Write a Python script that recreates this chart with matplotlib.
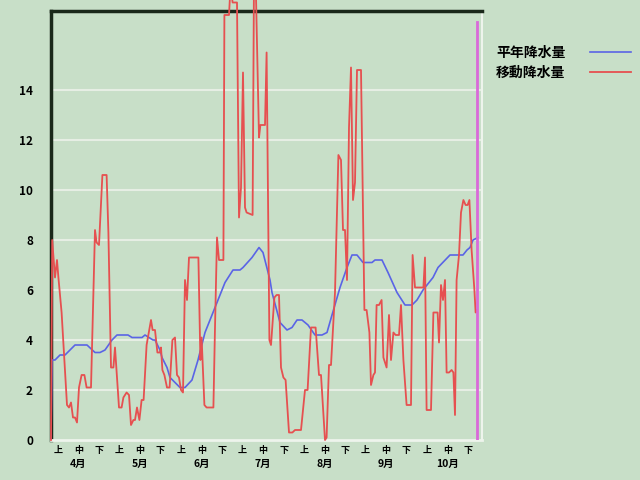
import matplotlib
matplotlib.use('Agg')
import matplotlib.pyplot as plt

plt.rcParams['font.family'] = ['Noto Sans CJK JP', 'DejaVu Sans']

# day index from Apr 1
normal_days = [0, 0.5, 2, 4.5, 7, 9.5, 12, 18, 22, 24.5, 27, 30.5, 33, 38.5, 40.5, 45.5, 47,
               51, 52, 54.5, 55.5, 58, 59.5, 62, 64.5, 67, 70.5, 73.5, 77, 82, 87, 91, 94.5,
               96, 100.5, 104, 106, 109.5, 110.5, 114.5, 118, 120.5, 123, 125.5, 128.5, 132,
               135.5, 138, 140.5, 144.5, 148, 150.5, 153, 156, 160.5, 162, 165.5, 168.5, 173,
               177, 180.5, 183, 186, 191, 193.5, 199.5, 206, 208, 209.5, 211, 213.5]
normal_vals = [0, 3.2, 3.2, 3.4, 3.4, 3.6, 3.8, 3.8, 3.5, 3.5, 3.6, 4.0, 4.2, 4.2, 4.1, 4.1, 4.2,
               4.0, 4.0, 3.6, 3.3, 2.9, 2.5, 2.3, 2.1, 2.1, 2.4, 3.2, 4.3, 5.3, 6.3, 6.8, 6.8,
               6.9, 7.3, 7.7, 7.5, 6.4, 5.9, 4.7, 4.4, 4.5, 4.8, 4.8, 4.6, 4.2,
               4.2, 4.3, 5.0, 6.1, 6.9, 7.4, 7.4, 7.1, 7.1, 7.2, 7.2, 6.7, 5.9,
               5.4, 5.4, 5.6, 6.0, 6.5, 6.9, 7.4, 7.4, 7.6, 7.7, 8.0, 8.1]

moving_days = [0, 0.6, 2, 3, 3.7, 5.3, 6.7, 8, 9, 10, 11, 12, 13, 14, 15.3, 16.7, 17.8, 20,
               22, 22.8, 24, 25.7, 27.8, 28.7, 30, 31.2, 32, 34, 35.3, 36.2, 37.8, 39, 40,
               41.2, 42, 43, 44.2, 45.3, 46.3, 47.8, 50, 50.8, 52, 53.2, 54.5, 55, 55.7,
               56.7, 58, 59.3, 60.7, 62, 63, 64, 65, 66, 67, 68, 69, 73.7, 74.7, 75.3, 76.7,
               77.8, 81.2, 82, 83, 84, 86.2, 86.7, 89, 89.8, 90.8, 93, 94, 95, 96, 97, 97.8,
               100.8, 101.5, 102.3, 104, 104.7, 107, 107.8, 109.2, 110, 111.7, 112.8, 114,
               115, 116.2, 117.3, 119, 120.7, 122, 125, 127, 128.3, 130, 132.3, 134, 135,
               137, 137.8, 139, 140, 142, 143.7, 145, 146, 147, 148, 149, 150, 151, 152, 153,
               155, 156.7, 157.8, 159.2, 160, 161.2, 162, 162.8, 164, 165.3, 166.2, 167.8,
               169, 170, 171.2, 172.3, 174, 175, 176.2, 177.8, 180, 180.8, 182, 186.2, 187,
               187.8, 190, 191.2, 193.3, 194, 195, 196, 197, 197.8, 199, 200.3, 201.2, 202,
               202.8, 204, 205, 206.2, 207.3, 208.3, 209.2, 210.3, 211.7, 212.3, 213]
moving_vals = [0, 8.0, 6.5, 7.2, 6.5, 5.1, 3.2, 1.4, 1.3, 1.5, 0.9, 0.9, 0.7, 2.1, 2.6, 2.6, 2.1, 2.1,
               8.4, 7.9, 7.8, 10.6, 10.6, 8.3, 2.9, 2.9, 3.7, 1.3, 1.3, 1.7, 1.9, 1.8, 0.6,
               0.8, 0.8, 1.3, 0.8, 1.6, 1.6, 3.8, 4.8, 4.4, 4.4, 3.5, 3.5, 3.7, 2.8,
               2.6, 2.1, 2.1, 4.0, 4.1, 2.6, 2.5, 2.0, 1.9, 6.4, 5.6, 7.3, 7.3, 3.2, 4.1, 1.4,
               1.3, 1.3, 4.5, 8.1, 7.2, 7.2, 17.0, 17.0, 18.2, 17.5, 17.5, 8.9, 10.1, 14.7, 9.3, 9.1,
               9.0, 18.5, 18.5, 12.1, 12.6, 12.6, 15.5, 4.0, 3.8, 5.7, 5.8, 5.8,
               2.9, 2.5, 2.4, 0.3, 0.3, 0.4, 0.4, 2.0, 2.0, 4.5, 4.5, 2.6, 2.6,
               0.0, 0.1, 3.0, 3.0, 5.9, 11.4, 11.2, 8.4, 8.4, 6.4, 12.5, 14.9, 9.6, 10.3, 14.8,
               14.8, 5.2, 5.2, 4.3, 2.2, 2.6, 2.7, 5.4, 5.4, 5.6, 3.3, 2.9,
               5.0, 3.2, 4.3, 4.2, 4.2, 5.4, 3.2, 1.4, 1.4, 7.4, 6.1, 6.1, 7.3,
               1.2, 1.2, 5.1, 5.1, 3.9, 6.2, 5.6, 6.4, 2.7, 2.7, 2.8, 2.7, 1.0,
               6.4, 7.4, 9.1, 9.6, 9.4, 9.4, 9.6, 7.6, 6.0, 5.1, 5.2]

months = ['4月', '5月', '6月', '7月', '8月', '9月', '10月']
dekads = ['上', '中', '下']
today_day = 213
today_top = 16.7

bg = '#c8dfc8'
fig = plt.figure(figsize=(6.4, 4.8), dpi=100, facecolor=bg)
ax = fig.add_axes([51 / 640, 40 / 480, 431 / 640, 429 / 480], facecolor=bg)

ax.set_xlim(0, 215.5)
ax.set_ylim(0, 17.16)

for v in range(2, 15, 2):
    ax.axhline(v, color='#e6eee4', lw=1.5, zorder=1)

ax.plot(normal_days, normal_vals, color='#5a64e6', lw=1.2, zorder=3, label='平年降水量')
ax.plot(moving_days, moving_vals, color='#e65050', lw=1.3, zorder=4, clip_on=False,
        label='移動降水量')
ax.plot([today_day, today_day], [0, today_top], color='#d96ad9', lw=2, zorder=5)

# dekad ticks, month names under the middle dekad
xt, xl = [], []
for i, m in enumerate(months):
    for j, d in enumerate(dekads):
        xt.append(3.5 + 10.25 * (i * 3 + j))
        xl.append(d)
    ax.text(xt[-2], -19 / 429, m, transform=ax.get_xaxis_transform(), ha='center', va='top',
            fontsize=7.5, fontweight='bold')
ax.set_xticks(xt)
ax.set_xticklabels(xl, fontsize=6.5, fontweight='bold')
ax.set_yticks(range(0, 15, 2))
ax.set_yticklabels([str(v) for v in range(0, 15, 2)], fontsize=8.5, fontweight='bold')
ax.tick_params(axis='both', length=0)
ax.tick_params(axis='x', pad=4)
ax.tick_params(axis='y', pad=13)

ax.spines['left'].set_color('#1a281a')
ax.spines['left'].set_linewidth(2.5)
ax.spines['top'].set_color('#1a281a')
ax.spines['top'].set_linewidth(2.5)
ax.spines['right'].set_color('#eef4ec')
ax.spines['right'].set_linewidth(1.5)
ax.spines['bottom'].set_color('#eef4ec')
ax.spines['bottom'].set_linewidth(2)

ax.legend(loc='upper left', bbox_to_anchor=(496 / 640, 1 - 46 / 480),
          bbox_transform=fig.transFigure, frameon=False, markerfirst=False,
          prop={'size': 10, 'weight': 'bold'}, handlelength=2.95,
          handletextpad=1.8, labelspacing=0.45, borderpad=0, borderaxespad=0)

fig.savefig('out.png', dpi=100, facecolor=bg)
